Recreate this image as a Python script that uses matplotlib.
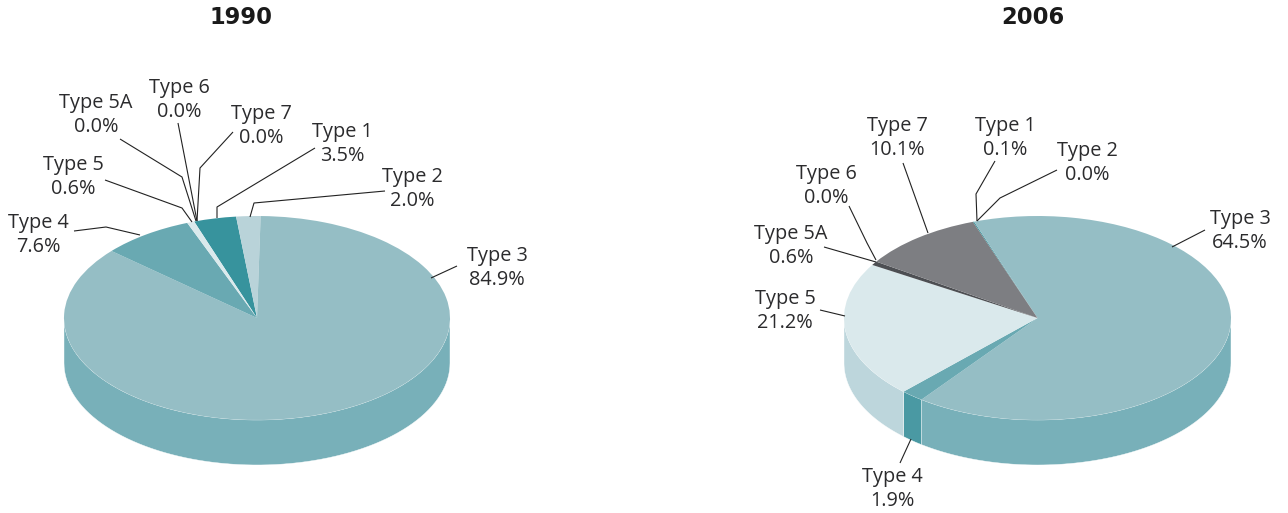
#!/usr/bin/env python3
"""
two 3d style pies of type shares, 1990 vs 2006
"""

import matplotlib
matplotlib.use('Agg')
import matplotlib.pyplot as plt
import numpy as np

types = ['Type 1', 'Type 2', 'Type 3', 'Type 4', 'Type 5', 'Type 5A', 'Type 6', 'Type 7']
values_1990 = [3.5, 2.0, 84.9, 7.6, 0.6, 0.0, 0.0, 0.0]
values_2006 = [0.1, 0.0, 64.5, 1.9, 21.2, 0.6, 0.0, 10.1]

top_colors = ['#37939d', '#b9d3d9', '#95bec5', '#69a9b2', '#dae9ec', '#4d4f53', '#4d4f53', '#7d7e82']
side_colors = ['#2b7f89', '#a5c4cb', '#78b0b9', '#4a99a3', '#bdd6dc', '#3c3e42', '#3c3e42', '#66676b']

W, H = 1288, 513
DEPTH = 45 / 102

plt.rcParams['font.family'] = ['Open Sans', 'DejaVu Sans']
TEXT = '#2b2b2d'

fig = plt.figure(figsize=(W / 100, H / 100), dpi=100)


def draw_pie(cx, cy, rx, ry, values, start):
    # axes is exactly the top ellipse, so the unit circle gets squashed by it
    ax = fig.add_axes([(cx - rx) / W, 1 - (cy + ry) / H, 2 * rx / W, 2 * ry / H])
    wedges, _ = ax.pie(values, colors=top_colors, startangle=start, counterclock=False,
                       wedgeprops=dict(linewidth=0))
    ax.set_aspect('auto')
    ax.set_xlim(-1, 1)
    ax.set_ylim(-1, 1)
    for w in wedges:
        w.set_clip_on(False)

    # side wall, only the front half of the rim shows
    fracs = np.array(values) / sum(values)
    a1 = start
    for frac, col in zip(fracs, side_colors):
        a2 = a1 - frac * 360
        lo, hi = max(a2, -180), min(a1, 0)
        if hi > lo:
            t = np.radians(np.linspace(lo, hi, 80))
            xs = np.r_[np.cos(t), np.cos(t)[::-1]]
            ys = np.r_[np.sin(t), np.sin(t)[::-1] - DEPTH]
            ax.fill(xs, ys, color=col, ec='white', lw=0.3, clip_on=False, zorder=0)
        a1 = a2


draw_pie(257, 318, 193, 102, values_1990, 109)
draw_pie(1037.5, 318, 193.5, 102, values_2006, 109.5)

# overlay in pixel coordinates for the labels and leader lines
over = fig.add_axes([0, 0, 1, 1])
over.set_xlim(0, W)
over.set_ylim(H, 0)
over.axis('off')

for x, title in [(241.5, '1990'), (1033, '2006')]:
    over.text(x, 18, title, ha='center', va='center', fontsize=16.3, fontweight='bold',
              family='DejaVu Sans', color='#1a1a1a')

label_pos_1990 = {
    'Type 1': (342, 144), 'Type 2': (412, 189), 'Type 3': (497, 268), 'Type 4': (38, 235),
    'Type 5': (73, 177), 'Type 5A': (96, 115), 'Type 6': (179, 100), 'Type 7': (261, 126),
}
label_pos_2006 = {
    'Type 1': (1005, 138), 'Type 2': (1087, 163), 'Type 3': (1240, 231), 'Type 4': (892, 489),
    'Type 5': (785, 311), 'Type 5A': (791, 246), 'Type 6': (826, 186), 'Type 7': (897, 138),
}

for vals, pos in [(values_1990, label_pos_1990), (values_2006, label_pos_2006)]:
    for name, val in zip(types, vals):
        x, y = pos[name]
        over.text(x, y, f'{name}\n{val:.1f}%', ha='center', va='center', fontsize=14.3,
                  color=TEXT, linespacing=1.26)

leaders = [
    # 1990
    [(74, 231), (106, 227), (140, 235)],
    [(105, 180), (182, 208), (192, 222)],
    [(120, 139), (182, 177), (196, 221)],
    [(178, 123), (197, 221)],
    [(233, 132), (200, 168), (197, 221)],
    [(315, 148), (217, 207), (217, 218)],
    [(385, 191), (254, 203), (250, 217)],
    [(431, 278), (457, 266)],
    # 2006
    [(903, 163), (928, 233)],
    [(995, 161), (976, 194), (977, 221)],
    [(1057, 170), (1000, 198), (977, 221)],
    [(849, 206), (867, 243), (876, 260)],
    [(824, 247), (876, 262)],
    [(820, 310), (845, 316)],
    [(1172, 247), (1205, 230)],
    [(911, 439), (900, 463)],
]
for pts in leaders:
    xs, ys = zip(*pts)
    over.plot(xs, ys, color='#222222', lw=0.8, solid_capstyle='butt')

fig.savefig('out.png', dpi=100)
